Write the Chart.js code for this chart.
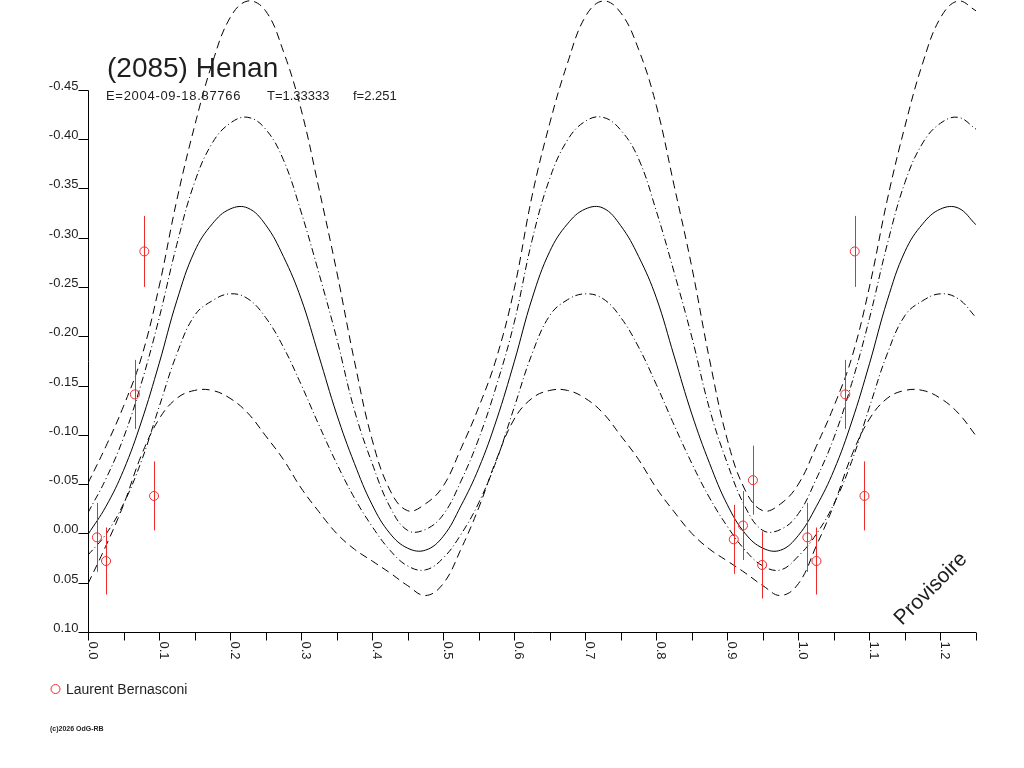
<!DOCTYPE html>
<html>
<head>
  <meta charset="UTF-8">
  <title>(2085) Henan</title>
  <script src="https://cdn.jsdelivr.net/npm/chart.js"></script>
  <style>
    body { margin: 0; background: #fff; }
    canvas { display: block; }
  </style>
</head>
<body>
  <canvas id="grafico" width="1024" height="768"></canvas>

  <script>
    // phase samples of the fitted curves
    const phase = [0, 0.025, 0.05, 0.075, 0.1, 0.125, 0.15, 0.175, 0.2, 0.225,
      0.25, 0.275, 0.3, 0.325, 0.35, 0.375, 0.4, 0.425, 0.45, 0.475,
      0.5, 0.525, 0.55, 0.575, 0.6, 0.625, 0.65, 0.675, 0.7, 0.725,
      0.75, 0.775, 0.8, 0.825, 0.85, 0.875, 0.9, 0.925, 0.95, 0.975,
      1.0, 1.025, 1.05, 1.075, 1.1, 1.125, 1.15, 1.175, 1.2, 1.225, 1.25];

    const fitMid = [0.001, -0.027, -0.064, -0.113, -0.172, -0.236, -0.286, -0.314, -0.329, -0.330,
      -0.313, -0.281, -0.238, -0.180, -0.121, -0.071, -0.029, 0.000, 0.015, 0.017,
      0.003, -0.028, -0.066, -0.115, -0.174, -0.238, -0.286, -0.314, -0.329, -0.330,
      -0.312, -0.281, -0.239, -0.180, -0.121, -0.071, -0.029, 0.000, 0.015, 0.017,
      0.002, -0.027, -0.064, -0.113, -0.172, -0.236, -0.286, -0.314, -0.329, -0.330, -0.313];

    const fitUp1 = [-0.021, -0.055, -0.097, -0.152, -0.218, -0.293, -0.356, -0.396, -0.416, -0.422,
      -0.410, -0.379, -0.326, -0.264, -0.198, -0.125, -0.071, -0.027, -0.003, -0.004,
      -0.019, -0.053, -0.096, -0.150, -0.214, -0.297, -0.360, -0.399, -0.418, -0.422,
      -0.409, -0.380, -0.327, -0.265, -0.199, -0.126, -0.071, -0.027, -0.003, -0.004,
      -0.020, -0.055, -0.097, -0.152, -0.218, -0.293, -0.356, -0.396, -0.416, -0.422, -0.410];

    const fitUp2 = [-0.051, -0.088, -0.129, -0.178, -0.250, -0.338, -0.413, -0.477, -0.523, -0.540,
      -0.530, -0.489, -0.430, -0.350, -0.266, -0.175, -0.095, -0.044, -0.023, -0.030,
      -0.048, -0.086, -0.128, -0.178, -0.248, -0.342, -0.416, -0.477, -0.524, -0.540,
      -0.528, -0.491, -0.434, -0.353, -0.270, -0.176, -0.095, -0.044, -0.023, -0.030,
      -0.050, -0.088, -0.129, -0.178, -0.250, -0.338, -0.413, -0.477, -0.523, -0.540, -0.530];

    const fitLow1 = [0.022, 0.001, -0.030, -0.073, -0.128, -0.182, -0.221, -0.236, -0.243, -0.238,
      -0.219, -0.189, -0.151, -0.110, -0.071, -0.036, -0.007, 0.017, 0.033, 0.037,
      0.025, 0.001, -0.031, -0.074, -0.128, -0.182, -0.221, -0.237, -0.243, -0.238,
      -0.219, -0.189, -0.151, -0.110, -0.071, -0.036, -0.007, 0.017, 0.033, 0.037,
      0.023, 0.001, -0.030, -0.073, -0.128, -0.182, -0.221, -0.236, -0.243, -0.238, -0.219];

    const fitLow2 = [0.051, 0.013, -0.029, -0.079, -0.116, -0.137, -0.145, -0.145, -0.137, -0.122,
      -0.099, -0.075, -0.046, -0.022, 0.000, 0.016, 0.028, 0.040, 0.053, 0.063,
      0.051, 0.016, -0.026, -0.075, -0.116, -0.137, -0.145, -0.145, -0.137, -0.122,
      -0.099, -0.075, -0.046, -0.022, 0.000, 0.016, 0.028, 0.040, 0.053, 0.063,
      0.051, 0.013, -0.029, -0.079, -0.116, -0.137, -0.145, -0.145, -0.137, -0.122, -0.099];

    // observations (Laurent Bernasconi)
    const obsPhase = [0.0126, 0.0254, 0.066, 0.0793, 0.093, 0.909, 0.922, 0.936, 0.949,
      1.0126, 1.0254, 1.066, 1.0793, 1.093];
    const obsMag = [0.004, 0.028, -0.141, -0.286, -0.038, 0.006, -0.008, -0.054, 0.032,
      0.004, 0.028, -0.141, -0.286, -0.038];
    const obsErr = [0.035, 0.034, 0.035, 0.036, 0.035, 0.035, 0.035, 0.035, 0.034,
      0.035, 0.034, 0.035, 0.036, 0.035];

    // axis ticks
    const xTicks = [0, 0.05, 0.1, 0.15, 0.2, 0.25, 0.3, 0.35, 0.4, 0.45, 0.5, 0.55, 0.6,
      0.65, 0.7, 0.75, 0.8, 0.85, 0.9, 0.95, 1.0, 1.05, 1.1, 1.15, 1.2, 1.25];
    const xLabelVals = [0, 0.1, 0.2, 0.3, 0.4, 0.5, 0.6, 0.7, 0.8, 0.9, 1.0, 1.1, 1.2];
    const xLabels = ['0.0', '0.1', '0.2', '0.3', '0.4', '0.5', '0.6', '0.7', '0.8', '0.9', '1.0', '1.1', '1.2'];
    const yTicks = [-0.45, -0.40, -0.35, -0.30, -0.25, -0.20, -0.15, -0.10, -0.05, 0.00, 0.05, 0.10];

    const RED = '#ee2b2b';
    const FONT = '"Liberation Sans", Arial, sans-serif';
    const TXT = '#1e1e1e';

    function curve(values, dash) {
      return {
        data: phase.map((p, i) => ({ x: p, y: values[i] })),
        showLine: true,
        borderColor: '#000',
        borderWidth: 1,
        borderDash: dash,
        pointRadius: 0,
        tension: 0.4,
        fill: false
      };
    }

    const decor = {
      id: 'decor',
      afterDatasetsDraw(chart) {
        const ctx = chart.ctx, sx = chart.scales.x, sy = chart.scales.y;
        ctx.save();
        ctx.strokeStyle = RED;
        ctx.lineWidth = 1;
        obsPhase.forEach((p, i) => {
          const x = Math.round(sx.getPixelForValue(p)) + 0.5;
          ctx.beginPath();
          ctx.moveTo(x, sy.getPixelForValue(obsMag[i] - obsErr[i]));
          ctx.lineTo(x, sy.getPixelForValue(obsMag[i] + obsErr[i]));
          ctx.stroke();
        });
        ctx.restore();
      },
      afterDraw(chart) {
        const ctx = chart.ctx, sx = chart.scales.x, sy = chart.scales.y;
        const x0 = Math.round(sx.getPixelForValue(0)) + 0.5;
        const yb = Math.round(sy.getPixelForValue(0.10)) + 0.5;
        const yt = Math.round(sy.getPixelForValue(-0.45)) + 0.5;
        const xr = sx.getPixelForValue(1.25);
        ctx.save();
        ctx.strokeStyle = '#000';
        ctx.lineWidth = 1;
        ctx.beginPath();
        ctx.moveTo(x0, yt);
        ctx.lineTo(x0, yb);
        ctx.lineTo(xr, yb);
        yTicks.forEach(v => {
          const y = Math.round(sy.getPixelForValue(v)) + 0.5;
          ctx.moveTo(x0 - 10, y);
          ctx.lineTo(x0, y);
        });
        xTicks.forEach(v => {
          const x = Math.round(sx.getPixelForValue(v)) + 0.5;
          ctx.moveTo(x, yb);
          ctx.lineTo(x, yb + 8);
        });
        ctx.stroke();

        ctx.fillStyle = TXT;
        ctx.font = '13px ' + FONT;
        ctx.textAlign = 'right';
        ctx.textBaseline = 'alphabetic';
        yTicks.forEach(v => {
          const y = Math.round(sy.getPixelForValue(v));
          ctx.fillText(v.toFixed(2), x0 - 10, y);
        });
        ctx.textAlign = 'left';
        xLabelVals.forEach((v, i) => {
          const x = Math.round(sx.getPixelForValue(v)) + 1;
          ctx.save();
          ctx.translate(x, yb + 9);
          ctx.rotate(Math.PI / 2);
          ctx.fillText(xLabels[i], 0, 0);
          ctx.restore();
        });

        // title block
        ctx.font = '28px ' + FONT;
        ctx.fillText('(2085) Henan', 107, 77);
        ctx.font = '13px ' + FONT;
        ctx.letterSpacing = '0.7px';
        ctx.fillText('E=2004-09-18.87766', 106, 100);
        ctx.letterSpacing = '0px';
        ctx.fillText('T=1.33333', 267, 100);
        ctx.fillText('f=2.251', 353, 100);

        // legend
        ctx.strokeStyle = RED;
        ctx.beginPath();
        ctx.arc(55.5, 689, 4.5, 0, Math.PI * 2);
        ctx.stroke();
        ctx.font = '14px ' + FONT;
        ctx.fillText('Laurent Bernasconi', 66, 694);

        ctx.font = 'bold 7px ' + FONT;
        ctx.fillText('(c)2026 OdG-RB', 50, 731);

        // watermark
        ctx.save();
        ctx.translate(931, 589);
        ctx.rotate(-Math.PI / 4);
        ctx.font = '21px ' + FONT;
        ctx.textAlign = 'center';
        ctx.textBaseline = 'middle';
        ctx.fillText('Provisoire', 0, 0);
        ctx.restore();
        ctx.restore();
      }
    };

    const ctx = document.getElementById('grafico').getContext('2d');
    new Chart(ctx, {
      type: 'scatter',
      data: {
        datasets: [
          {
            data: obsPhase.map((p, i) => ({ x: p, y: obsMag[i] })),
            pointRadius: 4.5,
            pointBorderWidth: 1,
            borderColor: RED,
            backgroundColor: 'rgba(0,0,0,0)',
            pointHoverRadius: 4.5
          },
          curve(fitMid, []),
          curve(fitUp1, [7, 3, 1, 3]),
          curve(fitLow1, [7, 3, 1, 3]),
          curve(fitUp2, [8, 5]),
          curve(fitLow2, [8, 5])
        ]
      },
      options: {
        responsive: false,
        devicePixelRatio: 1,
        animation: false,
        events: [],
        layout: { autoPadding: false, padding: { left: 88, right: 48, top: 0, bottom: 136 } },
        plugins: { legend: { display: false }, tooltip: { enabled: false } },
        scales: {
          x: { type: 'linear', min: 0, max: 1.25, display: false },
          y: { type: 'linear', min: -0.541, max: 0.10, reverse: true, display: false }
        }
      },
      plugins: [decor]
    });
  </script>
</body>
</html>
